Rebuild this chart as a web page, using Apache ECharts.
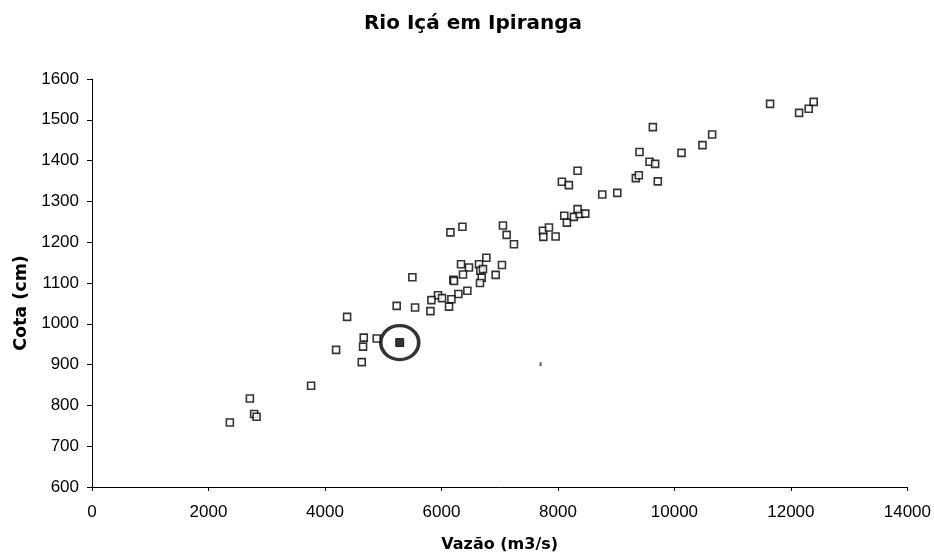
<!DOCTYPE html>
<html><head><meta charset="utf-8">
<script src="https://cdn.jsdelivr.net/npm/echarts@6/dist/echarts.min.js"></script>
<style>html,body{margin:0;padding:0;background:#fff}#c{width:934px;height:559px}</style>
</head><body><div id="c"></div>
<script>
const vazao = [2367,2711,2784,2826,3762,4191,4380,4666,4654,4632,4889,5232,5547,5811,5501,
  6154,6360,7056,7120,7245,7743,7846,7749,7960,8109,8154,8274,8372,8470,
  6336,6473,6370,6205,6216,6645,6771,6668,6713,6691,6662,6931,7039,6445,6291,6171,6130,5941,6010,5828,
  8338,8338,8068,8188,8761,9019,9338,9389,9573,9670,9715,
  9630,9401,10122,10482,10648,11643,12141,12306,12392];
const cota = [758,817,779,772,848,936,1017,966,944,906,964,1044,1040,1031,1114,
  1224,1238,1241,1218,1195,1228,1236,1213,1214,1265,1248,1262,1269,1270,
  1146,1138,1121,1108,1105,1146,1162,1130,1134,1113,1100,1120,1144,1081,1073,1060,1042,1070,1063,1058,
  1281,1375,1348,1340,1317,1321,1357,1364,1397,1392,1349,
  1482,1421,1419,1438,1464,1539,1517,1527,1544];
const destaqueVazao = [5284];
const destaqueCota = [954];
const marcaVazao = [7703];
const marcaCota = [901];
const xTicks = [0,2000,4000,6000,8000,10000,12000,14000];
const yTicks = [600,700,800,900,1000,1100,1200,1300,1400,1500,1600];

const pts = vazao.map((v,i)=>[v,cota[i]]);
const hl = destaqueVazao.map((v,i)=>[v,destaqueCota[i]]);
const mk = marcaVazao.map((v,i)=>[v,marcaCota[i]]);
const font = 'Liberation Sans, Arial, sans-serif';
const bfont = 'DejaVu Sans, Liberation Sans, sans-serif';
const chart = echarts.init(document.getElementById('c'));
chart.setOption({
  animation:false,
  backgroundColor:'#fff',
  title:{text:'Rio Içá em Ipiranga',left:468,top:9,textAlign:'center',
    textStyle:{fontFamily:bfont,fontWeight:'bold',fontSize:20,color:'#000'}},
  grid:{left:92,right:26,top:79,bottom:72},
  xAxis:{type:'value',min:xTicks[0],max:xTicks[xTicks.length-1],interval:2000,
    name:'Vazão (m3/s)',nameLocation:'middle',nameGap:50,
    nameTextStyle:{fontFamily:bfont,fontWeight:'bold',fontSize:16,color:'#000'},
    axisLine:{show:true,lineStyle:{color:'#000',width:1}},
    axisTick:{show:true,length:4,lineStyle:{color:'#000'}},
    axisLabel:{fontFamily:font,fontSize:17,color:'#000',margin:17,formatter:v=>String(v)},
    splitLine:{show:false}},
  yAxis:{type:'value',min:yTicks[0],max:yTicks[yTicks.length-1],interval:100,
    name:'Cota (cm)',nameLocation:'middle',nameGap:62,nameRotate:90,
    nameTextStyle:{fontFamily:bfont,fontWeight:'bold',fontSize:17.5,color:'#000',padding:[0,40,0,0]},
    axisLine:{show:true,lineStyle:{color:'#000',width:1}},
    axisTick:{show:true,length:5,lineStyle:{color:'#000'}},
    axisLabel:{fontFamily:font,fontSize:17,color:'#000',margin:13,formatter:v=>String(v)},
    splitLine:{show:false}},
  series:[
    {type:'scatter',data:pts,symbol:'rect',symbolSize:7,
      itemStyle:{color:'#fff',borderColor:'#000',borderWidth:1.6}},
    {type:'scatter',data:hl,symbol:'rect',symbolSize:8,
      itemStyle:{color:'#000',borderColor:'#000',borderWidth:1}},
    {type:'scatter',data:hl,symbol:'circle',symbolSize:[38,34],
      itemStyle:{color:'rgba(0,0,0,0)',borderColor:'#000',borderWidth:3.5},z:1},
    {type:'scatter',data:mk,symbol:'rect',symbolSize:[2,4],
      itemStyle:{color:'#333'}}
  ]
});
</script></body></html>
